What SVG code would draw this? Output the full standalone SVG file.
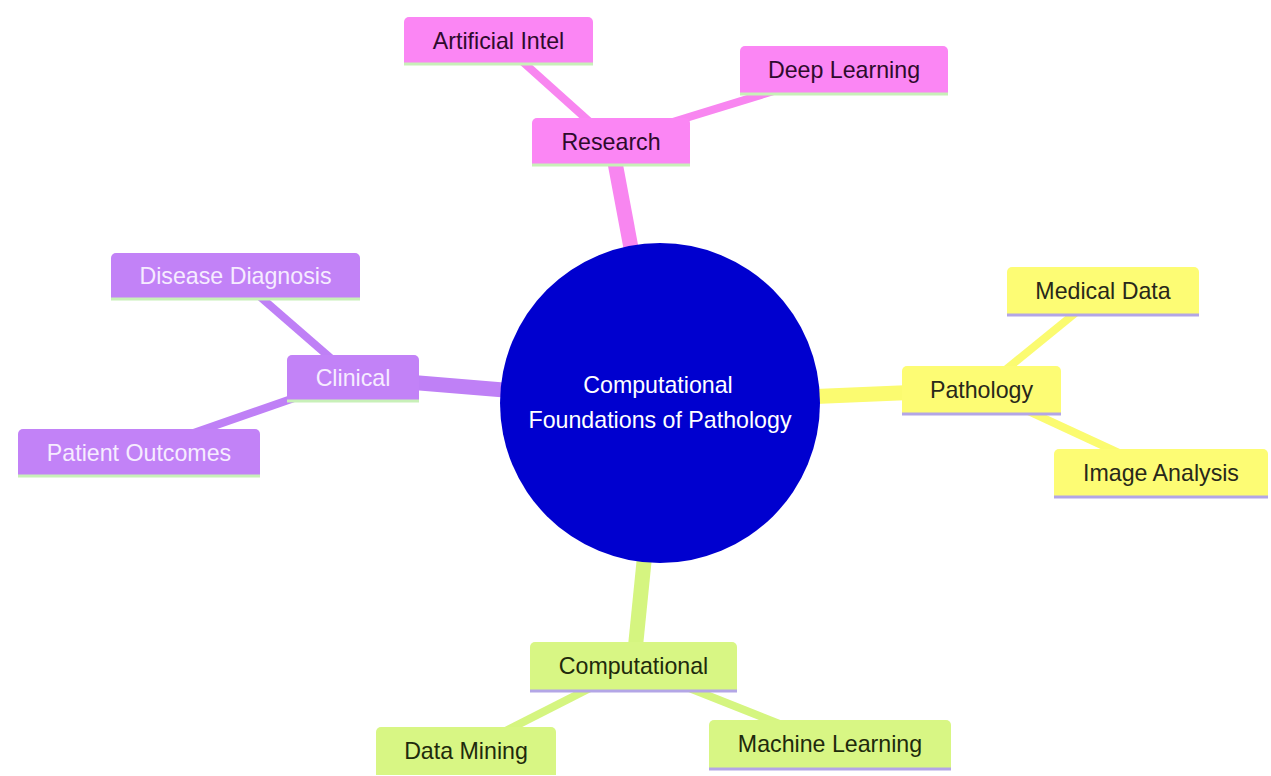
<svg xmlns="http://www.w3.org/2000/svg" width="1271" height="776" viewBox="0 0 1271 776">
<style>
text{font-family:"Liberation Sans",Arial,sans-serif;font-size:23.2px;text-anchor:middle}
.e{fill:none;stroke-linecap:butt}
.main{stroke-width:15}
.leaf{stroke-width:8}
.pink{fill:#fb86f4}
.purple{fill:#c282f7}
.yellow{fill:#fdfc74}
.green{fill:#d8f684}
.tp{fill:#2e0b2c}
.tu{fill:#f6ecff}
.ty{fill:#28281a}
.tg{fill:#1e2a0c}
.ulg{stroke:#c8f0b8;stroke-width:3}
.ull{stroke:#b3a6e6;stroke-width:3}
</style>
<rect width="1271" height="776" fill="#ffffff"/>
<g id="connectors">
<line class="e main" x1="660" y1="403" x2="611" y2="141" stroke="#f886f0"/>
<line class="e main" x1="660" y1="403" x2="353" y2="377.5" stroke="#bf80f6"/>
<line class="e main" x1="660" y1="403" x2="981.5" y2="389.5" stroke="#fbfb70"/>
<line class="e main" x1="660" y1="403" x2="633.5" y2="666" stroke="#d5f580"/>
<line class="e leaf" x1="498.5" y1="40" x2="611" y2="141" stroke="#f886f0"/>
<line class="e leaf" x1="844" y1="69.5" x2="611" y2="141" stroke="#f886f0"/>
<line class="e leaf" x1="235.5" y1="275.5" x2="353" y2="377.5" stroke="#bf80f6"/>
<line class="e leaf" x1="139" y1="452" x2="353" y2="377.5" stroke="#bf80f6"/>
<line class="e leaf" x1="1103" y1="290.5" x2="981.5" y2="389.5" stroke="#fbfb70"/>
<line class="e leaf" x1="1161" y1="472.5" x2="981.5" y2="389.5" stroke="#fbfb70"/>
<line class="e leaf" x1="466" y1="751" x2="633.5" y2="666" stroke="#d5f580"/>
<line class="e leaf" x1="830" y1="744" x2="633.5" y2="666" stroke="#d5f580"/>
</g>
<g id="root">
<circle cx="660" cy="403" r="160" fill="#0000cf"/>
<text x="658" y="393" fill="#ffffff">Computational</text>
<text x="660" y="428" fill="#ffffff">Foundations of Pathology</text>
</g>
<g id="research">
<path class="pink" d="M532,164V123a5,5 0 0 1 5,-5H685a5,5 0 0 1 5,5V164Z"/>
<line class="ulg" x1="532" y1="165" x2="690" y2="165"/>
<text class="tp" x="611" y="149.5">Research</text>
</g>
<g id="artificial-intel">
<path class="pink" d="M404,63V22a5,5 0 0 1 5,-5H588a5,5 0 0 1 5,5V63Z"/>
<line class="ulg" x1="404" y1="64" x2="593" y2="64"/>
<text class="tp" x="498.5" y="48.5">Artificial Intel</text>
</g>
<g id="deep-learning">
<path class="pink" d="M740,93V51a5,5 0 0 1 5,-5H943a5,5 0 0 1 5,5V93Z"/>
<line class="ulg" x1="740" y1="94" x2="948" y2="94"/>
<text class="tp" x="844" y="78">Deep Learning</text>
</g>
<g id="clinical">
<path class="purple" d="M287,400V360a5,5 0 0 1 5,-5H414a5,5 0 0 1 5,5V400Z"/>
<line class="ulg" x1="287" y1="401" x2="419" y2="401"/>
<text class="tu" x="353" y="386">Clinical</text>
</g>
<g id="disease-diagnosis">
<path class="purple" d="M111,298V258a5,5 0 0 1 5,-5H355a5,5 0 0 1 5,5V298Z"/>
<line class="ulg" x1="111" y1="299" x2="360" y2="299"/>
<text class="tu" x="235.5" y="284">Disease Diagnosis</text>
</g>
<g id="patient-outcomes">
<path class="purple" d="M18,475V434a5,5 0 0 1 5,-5H255a5,5 0 0 1 5,5V475Z"/>
<line class="ulg" x1="18" y1="476" x2="260" y2="476"/>
<text class="tu" x="139" y="460.5">Patient Outcomes</text>
</g>
<g id="pathology">
<path class="yellow" d="M902,413V371a5,5 0 0 1 5,-5H1056a5,5 0 0 1 5,5V413Z"/>
<line class="ull" x1="902" y1="414" x2="1061" y2="414"/>
<text class="ty" x="981.5" y="398">Pathology</text>
</g>
<g id="medical-data">
<path class="yellow" d="M1007,314V272a5,5 0 0 1 5,-5H1194a5,5 0 0 1 5,5V314Z"/>
<line class="ull" x1="1007" y1="315" x2="1199" y2="315"/>
<text class="ty" x="1103" y="299">Medical Data</text>
</g>
<g id="image-analysis">
<path class="yellow" d="M1054,496V454a5,5 0 0 1 5,-5H1263a5,5 0 0 1 5,5V496Z"/>
<line class="ull" x1="1054" y1="497" x2="1268" y2="497"/>
<text class="ty" x="1161" y="481">Image Analysis</text>
</g>
<g id="computational">
<path class="green" d="M530,690V647a5,5 0 0 1 5,-5H732a5,5 0 0 1 5,5V690Z"/>
<line class="ull" x1="530" y1="691" x2="737" y2="691"/>
<text class="tg" x="633.5" y="674">Computational</text>
</g>
<g id="data-mining">
<path class="green" d="M376,775V732a5,5 0 0 1 5,-5H551a5,5 0 0 1 5,5V775Z"/>
<text class="tg" x="466" y="759">Data Mining</text>
</g>
<g id="machine-learning">
<path class="green" d="M709,768V725a5,5 0 0 1 5,-5H946a5,5 0 0 1 5,5V768Z"/>
<line class="ull" x1="709" y1="769" x2="951" y2="769"/>
<text class="tg" x="830" y="752">Machine Learning</text>
</g>
</svg>
